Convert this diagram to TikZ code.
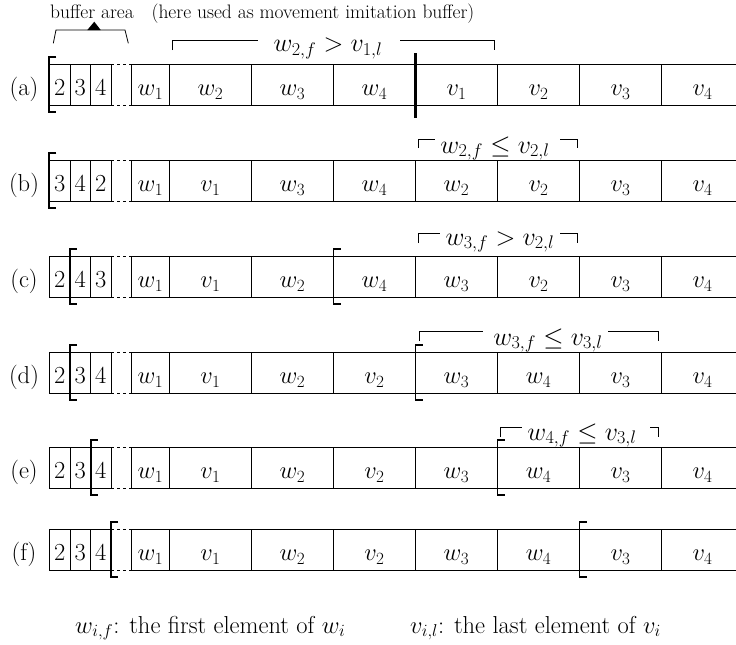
\RequirePackage{fix-cm}
\documentclass[tikz,border=0pt]{standalone}
\tikzset{
  cellline/.style={line width=0.8pt},
  brk/.style={line width=1.7pt},
  txt/.style={anchor=base, inner sep=0pt, font=\fontsize{24.5}{29}\selectfont},
  cmptxt/.style={anchor=base, inner sep=0pt, font=\fontsize{26}{31}\selectfont},
  smalltxt/.style={anchor=base, inner sep=0pt, font=\fontsize{19.5}{23}\selectfont},
  overline/.style={line width=0.8pt},
}
% #1 top y, #2 row name, #3 #4 #5 buffer digits, #6 list of 7 wide labels
\newcommand{\myrow}[6]{%
  \begin{scope}[shift={(0,#1)}]
    \node[txt] (#2-lab) at (24,31.7) {(#2)};
    % buffer cells
    \draw[cellline] (49.3,0) -- (111,0) (49.3,41) -- (111,41);
    \foreach \xx in {49.3,70,90.7,111} \draw[cellline] (\xx,0) -- (\xx,41);
    \draw[cellline, dash pattern=on 3pt off 3pt] (111,0) -- (131.7,0) (111,41) -- (131.7,41);
    \node[txt] (#2-d1) at (59.65,31.7) {#3};
    \node[txt] (#2-d2) at (80.35,31.7) {#4};
    \node[txt] (#2-d3) at (100.85,31.7) {#5};
    % main cells
    \draw[cellline] (131.7,0) -- (736,0) (131.7,41) -- (736,41);
    \foreach \xx in {131.7,169.3,251.5,333.5,415.5,497.5,579.5,661.5} \draw[cellline] (\xx,0) -- (\xx,41);
    \node[txt] (#2-w1) at (150.5,31.7) {$w_1$};
    \foreach \lab [count=\k from 0] in {#6}
      \node[txt] (#2-c\k) at ({210.4+82.03*\k},31.7) {$\lab$};
  \end{scope}}
% left bracket at x #1 for row top #2
\newcommand{\lbr}[2]{\draw[brk] ({#1+7},{#2-7}) -- (#1,{#2-7}) -- (#1,{#2+48}) -- ({#1+7},{#2+48});}
\begin{document}
\begin{tikzpicture}[x=1pt,y=-1pt]
\useasboundingbox (0,0) rectangle (736,645);
% top annotations
\node[smalltxt] (bufarea) at (92,18) {buffer area};
\node[smalltxt] (hereused) at (313,18) {(here used as movement imitation buffer)};
\draw[cellline] (53.3,43.3) -- (56,30) -- (125,30) -- (128.3,43.3);
\fill (87.3,30) -- (94.3,21.7) -- (100.7,30) -- cycle;
% overhead comparison labels
\draw[overline] (172.7,50) -- (172.7,40) -- (258,40);
\draw[overline] (400,40) -- (494,40) -- (494,50);
\node[cmptxt] (cmpa) at (328,51.7) {$w_{2,f} > v_{1,l}$};
\draw[overline] (418,148) -- (418,139) -- (435,139);
\draw[overline] (560,139) -- (577,139) -- (577,148);
\node[cmptxt] (cmpb) at (495,153) {$w_{2,f} \leq v_{2,l}$};
\draw[overline] (418,243) -- (418,233) -- (440,233);
\draw[overline] (560,233) -- (577,233) -- (577,243);
\node[cmptxt] (cmpc) at (500,245) {$w_{3,f} > v_{2,l}$};
\draw[overline] (419,341) -- (419,331) -- (483,331);
\draw[overline] (608,331) -- (658,331) -- (658,341);
\node[cmptxt] (cmpd) at (548,345) {$w_{3,f} \leq v_{3,l}$};
\draw[overline] (500.7,437) -- (500.7,427) -- (521.7,427);
\draw[overline] (650,427) -- (658,427) -- (658,437);
\node[cmptxt] (cmpe) at (582,440) {$w_{4,f} \leq v_{3,l}$};
% rows
\myrow{64}{a}{2}{3}{4}{w_2,w_3,w_4,v_1,v_2,v_3,v_4}
\myrow{160}{b}{3}{4}{2}{v_1,w_3,w_4,w_2,v_2,v_3,v_4}
\myrow{256}{c}{2}{4}{3}{v_1,w_2,w_4,w_3,v_2,v_3,v_4}
\myrow{352}{d}{2}{3}{4}{v_1,w_2,v_2,w_3,w_4,v_3,v_4}
\myrow{447}{e}{2}{3}{4}{v_1,w_2,v_2,w_3,w_4,v_3,v_4}
\myrow{529}{f}{2}{3}{4}{v_1,w_2,v_2,w_3,w_4,v_3,v_4}
% thick separator in (a)
\draw[line width=3.5pt] (415.5,53) -- (415.5,118);
% brackets
\lbr{49.3}{64}
\lbr{49.3}{160}
\lbr{70}{256}\lbr{333.5}{256}
\lbr{70}{352}\lbr{415.5}{352}
\lbr{90.7}{447}\lbr{497.5}{447}
\lbr{111}{529}\lbr{579.5}{529}
% legend
\node[txt, anchor=base west] (legw) at (75,633) {$w_{i,f}$: the first element of $w_i$};
\node[txt, anchor=base west] (legv) at (410,633) {$v_{i,l}$: the last element of $v_i$};
\end{tikzpicture}
\end{document}
